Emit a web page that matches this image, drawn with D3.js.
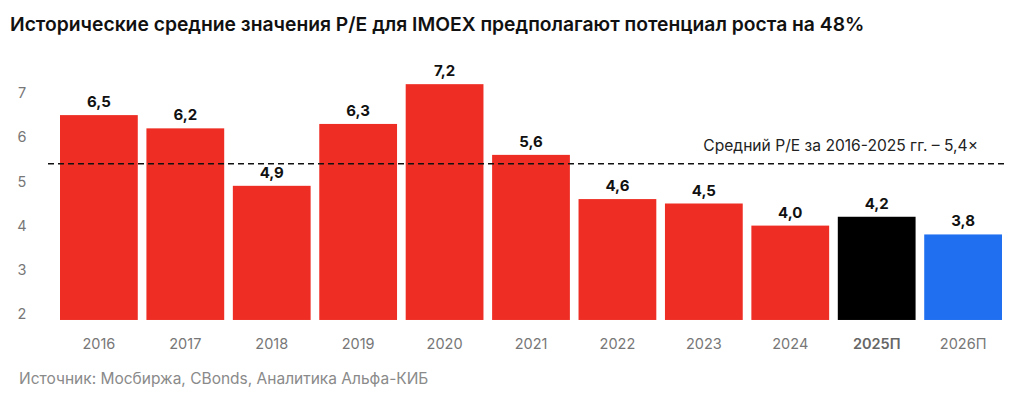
<!DOCTYPE html>
<html>
<head>
<meta charset="utf-8">
<script src="https://cdn.jsdelivr.net/npm/d3@7"></script>
<style>
  body { margin: 0; background: #fff; }
  svg { font-family: Inter, "Noto Sans", sans-serif; }
</style>
</head>
<body>
<div id="chart"></div>
<script>
// data
const years = ['2016', '2017', '2018', '2019', '2020', '2021', '2022', '2023', '2024', '2025П', '2026П'];
const peValues = [6.5, 6.2, 4.9, 6.3, 7.2, 5.6, 4.6, 4.5, 4.0, 4.2, 3.8];
const barKinds = ['fact', 'fact', 'fact', 'fact', 'fact', 'fact', 'fact', 'fact', 'fact', 'forecast', 'forecast2'];
const yTicks = [2, 3, 4, 5, 6, 7];
const avgPE = 5.4;

const colors = { fact: '#ee2e24', forecast: '#000000', forecast2: '#1f6ff0' };

const width = 1024, height = 397;
const fmt = v => d3.format('.1f')(v).replace('.', ',');

const svg = d3.select('#chart').append('svg')
  .attr('width', width)
  .attr('height', height);

// title
svg.append('text')
  .attr('x', 10)
  .attr('y', 31)
  .style('font-size', '19.3px')
  .style('font-weight', '600')
  .style('fill', '#111')
  .text('Исторические средние значения P/E для IMOEX предполагают потенциал роста на 48%');

const x = d3.scaleBand()
  .domain(years)
  .range([60, 1002])
  .paddingInner(0.1)
  .paddingOuter(0);

const y = d3.scaleLinear()
  .domain([2, 7])
  .range([314, 93]);

const floor = 1.865;  // bars go a bit below the "2" tick

// y axis labels
const yAxis = svg.append('g')
  .attr('transform', 'translate(28,0)')
  .call(d3.axisLeft(y).tickValues(yTicks).tickSize(0).tickPadding(0).tickFormat(d3.format('d')));
yAxis.select('.domain').remove();
yAxis.selectAll('text')
  .attr('text-anchor', 'middle')
  .attr('x', -6)
  .style('font-size', '14.5px')
  .style('font-family', 'Inter, "Noto Sans", sans-serif')
  .style('fill', '#777');

// bars
svg.selectAll('rect.bar')
  .data(peValues)
  .enter().append('rect')
  .attr('class', 'bar')
  .attr('x', (d, i) => x(years[i]))
  .attr('y', d => y(d))
  .attr('width', x.bandwidth())
  .attr('height', d => y(floor) - y(d))
  .attr('fill', (d, i) => colors[barKinds[i]]);

// value labels
svg.selectAll('text.val')
  .data(peValues)
  .enter().append('text')
  .attr('class', 'val')
  .attr('x', (d, i) => x(years[i]) + x.bandwidth() / 2)
  .attr('y', d => y(d) - 8)
  .attr('text-anchor', 'middle')
  .style('font-size', '15px')
  .style('font-weight', '700')
  .style('fill', '#111')
  .text(d => fmt(d));

// average line
svg.append('line')
  .attr('x1', 48)
  .attr('x2', 1004)
  .attr('y1', y(avgPE))
  .attr('y2', y(avgPE))
  .attr('stroke', '#111')
  .attr('stroke-width', 1.6)
  .attr('stroke-dasharray', '6,4');

svg.append('text')
  .attr('x', 978)
  .attr('y', y(avgPE) - 13)
  .attr('text-anchor', 'end')
  .style('font-size', '15.6px')
  .style('fill', '#222')
  .text('Средний P/E за 2016-2025 гг. – ' + fmt(avgPE) + '×');

// x axis labels
const xAxis = svg.append('g')
  .attr('transform', `translate(0,${y(floor)})`)
  .call(d3.axisBottom(x).tickSize(0).tickPadding(19));
xAxis.select('.domain').remove();
xAxis.selectAll('text')
  .style('font-size', '14.5px')
  .style('font-family', 'Inter, "Noto Sans", sans-serif')
  .style('fill', d => d === '2025П' ? '#666' : '#777')
  .style('font-weight', d => d === '2025П' ? '600' : '400');

// source
svg.append('text')
  .attr('x', 19)
  .attr('y', 384)
  .style('font-size', '15.5px')
  .style('fill', '#8a8a8a')
  .text('Источник: Мосбиржа, CBonds, Аналитика Альфа-КИБ');
</script>
</body>
</html>
